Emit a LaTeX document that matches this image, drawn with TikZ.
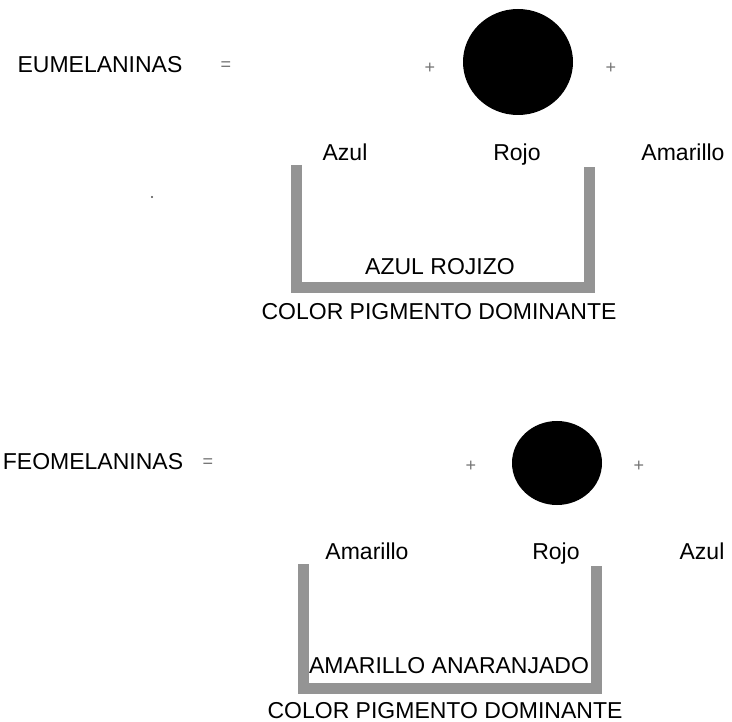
\documentclass[tikz,border=0pt]{standalone}
\usepackage{fontspec}
\setmainfont{Liberation Sans}
\usetikzlibrary{shapes.geometric}

\begin{document}
\begin{tikzpicture}[x=1pt,y=-1pt,
	lbl/.style={inner sep=0pt,anchor=base,font=\fontsize{23}{25}\selectfont},
	sgn/.style={inner sep=0pt,text=black!55,font=\fontsize{18}{20}\selectfont},
	pigment/.style={ellipse,fill=black,inner sep=0pt},
	tray/.style={draw=black!42,line width=11pt,line join=miter}]
	\useasboundingbox (0,0) rectangle (732,722);

	% eumelaninas
	\node[lbl] (eu) at (100,73) {EUMELANINAS};
	\node[sgn] (eueq) at (226,66) {=};
	\node[sgn] (euplusa) at (430,68) {+};
	\node[pigment,minimum width=110pt,minimum height=106pt] (eured) at (518,62) {};
	\node[sgn] (euplusb) at (611,68) {+};
	\foreach \name/\x/\txt in {eublue/345/Azul,eurojo/517/Rojo,euyellow/683/Amarillo}
		\node[lbl] (\name) at (\x,161) {\txt};
	\draw[tray] (296,165) |- (589,288) -- (589,167);
	\node[lbl] (eumix) at (440,275) {AZUL ROJIZO};
	\node[lbl] (eudom) at (439,320) {COLOR PIGMENTO DOMINANTE};
	\fill[black!70] (152,197) circle (1.2);

	% feomelaninas
	\node[lbl] (feo) at (93,470) {FEOMELANINAS};
	\node[sgn] (feoeq) at (208,463) {=};
	\node[sgn] (feoplusa) at (471,466) {+};
	\node[pigment,minimum width=90pt,minimum height=84pt] (feored) at (557,463) {};
	\node[sgn] (feoplusb) at (639,466) {+};
	\foreach \name/\x/\txt in {feoyellow/367/Amarillo,feorojo/556/Rojo,feoblue/702/Azul}
		\node[lbl] (\name) at (\x,559) {\txt};
	\draw[tray] (303,564) |- (596,688) -- (596,566);
	\node[lbl] (feomix) at (449,673) {AMARILLO ANARANJADO};
	\node[lbl] (feodom) at (445,718) {COLOR PIGMENTO DOMINANTE};
\end{tikzpicture}
\end{document}
